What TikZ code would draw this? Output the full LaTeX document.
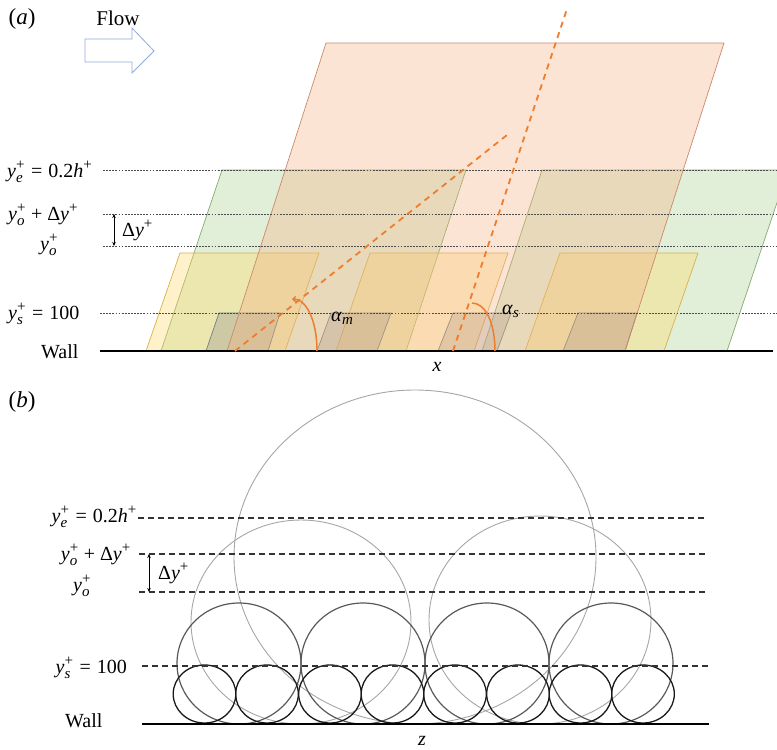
\documentclass[tikz,border=0pt]{standalone}
\usepackage{amsmath}
\usepackage{fontspec}
\setmainfont{Liberation Serif}
\usetikzlibrary{arrows.meta}
\DeclareMathSizes{20}{20}{15}{12}
\DeclareMathSizes{19}{19}{14}{11}
\definecolor{salmonF}{HTML}{F4B183}
\definecolor{salmonD}{HTML}{C9896B}
\definecolor{greenF}{HTML}{A9D18E}
\definecolor{greenD}{HTML}{86A96F}
\definecolor{yellF}{HTML}{FFD966}
\definecolor{yellD}{HTML}{D6B04E}
\definecolor{grayF}{HTML}{8C8C8C}
\definecolor{grayD}{HTML}{6F7F86}
\definecolor{orangeL}{HTML}{ED7D31}
\definecolor{flowC}{HTML}{8FAADC}
\newcommand{\yplus}[1]{\textit{y}$^{\text{+}}_{\textit{#1}}$}
\newcommand{\dyplus}{Δ\textit{y}$^{\text{+}}$}
\newcommand{\eqs}{\hspace{0.3em}=\hspace{0.3em}}
\newcommand{\pls}{\hspace{0.25em}+\hspace{0.25em}}
\begin{document}
\begin{tikzpicture}[x=1pt,y=-1pt,
  lbl/.style={inner sep=0pt,font=\fontsize{20}{24}\selectfont},
  greenbox/.style={fill=greenF,fill opacity=0.35,draw=greenD,line width=0.7pt},
  yellbox/.style={fill=yellF,fill opacity=0.35,draw=yellD,line width=0.7pt},
  graybox/.style={fill=grayF,fill opacity=0.32,draw=grayD,line width=0.7pt},
  salmonbox/.style={fill=salmonF,fill opacity=0.35,draw=salmonD,line width=0.7pt},
  dotline/.style={draw=black!70,line width=0.7pt,dash pattern=on 1.8pt off 1.3pt},
  dashline/.style={draw=black!80,line width=1.3pt,dash pattern=on 6pt off 4pt},
  wallline/.style={draw=black,line width=1.8pt},
  odash/.style={draw=orangeL,line width=1.8pt,dash pattern=on 6pt off 5pt},
  oarc/.style={draw=orangeL,line width=1.5pt},
  dyarrow/.style={draw=black,line width=0.8pt,{Stealth[length=4pt,width=3.5pt]}-{Stealth[length=4pt,width=3.5pt]}},
  smallc/.style={draw=black!90,line width=1.3pt},
  medc/.style={draw=black!65,line width=1.2pt},
  largec/.style={draw=black!35,line width=0.9pt}]
\useasboundingbox (0,0) rectangle (777,750);

% ---------------- panel (a) ----------------
\begin{scope}
\clip (0,0) rectangle (777,750);
\draw[greenbox] (161,351) -- (222,170) -- (466,170) -- (406,351) -- cycle;
\draw[greenbox] (482,351) -- (542,170) -- (788,170) -- (727,351) -- cycle;
\end{scope}
\draw[yellbox] (146,351) -- (180,253) -- (319,253) -- (285,351) -- cycle;
\draw[yellbox] (336,351) -- (370,253) -- (508,253) -- (474,351) -- cycle;
\draw[yellbox] (525,351) -- (560,253) -- (698,253) -- (664,351) -- cycle;
\draw[graybox] (206,351) -- (219,313) -- (280,313) -- (268,351) -- cycle;
\draw[graybox] (317,351) -- (331,313) -- (391,313) -- (377,351) -- cycle;
\draw[graybox] (438,351) -- (453,313) -- (511,313) -- (497,351) -- cycle;
\draw[graybox] (563,351) -- (578,313) -- (637,313) -- (625,351) -- cycle;
\draw[salmonbox] (227,351) -- (326,43) -- (724,43) -- (625,351) -- cycle;

% level lines (a)
\coordinate (aeL) at (103,170); \coordinate (aeR) at (777,170);
\coordinate (adL) at (103,214); \coordinate (adR) at (777,214);
\coordinate (aoL) at (103,246); \coordinate (aoR) at (777,246);
\coordinate (asL) at (100,313); \coordinate (asR) at (777,313);
\coordinate (awL) at (100,351); \coordinate (awR) at (773,351);
\draw[dotline] (aeL) -- (aeR);
\draw[dotline] (adL) -- (adR);
\draw[dotline] (aoL) -- (aoR);
\draw[dotline] (asL) -- (asR);
\draw[wallline] (awL) -- (awR);

% dy arrow (a)
\coordinate (adyT) at (114,214); \coordinate (adyB) at (114,246);
\draw[dyarrow] (adyT) -- (adyB);

% orange dashed lines and arcs
\coordinate (m0) at (235,351); \coordinate (m1) at (507,135);
\coordinate (s0) at (453,351); \coordinate (s1) at (567,9);
\draw[odash] (m0) -- (m1);
\draw[odash] (s0) -- (s1);
\coordinate (am0) at (292,299); \coordinate (am1) at (317,351);
\draw[oarc,{Straight Barb[length=2.5pt,width=5pt]}-] (am0) .. controls (306,299) and (317,320) .. (am1);
\coordinate (as0) at (472,303); \coordinate (as1) at (495,351);
\draw[oarc] (as0) .. controls (485,303) and (495,322) .. (as1);

% flow arrow
\draw[draw=flowC,line width=0.8pt,fill=white] (85,39) -- (132,39) -- (132,28) -- (154,51) -- (132,73) -- (132,62) -- (85,62) -- cycle;

% labels (a)
\node[lbl,font=\fontsize{23}{26}\selectfont] (la) at (22,19) {(\textit{a})};
\node[lbl,font=\fontsize{21}{24}\selectfont] (flow) at (118,18) {Flow};
\node[lbl,anchor=base west] (aye) at (7,177) {\yplus{e}\eqs 0.2\textit{h}$^{\text{+}}$};
\node[lbl,anchor=base west] (ayd) at (8,220) {\yplus{o}\pls\dyplus};
\node[lbl,anchor=base west] (ayo) at (40,250) {\yplus{o}};
\node[lbl,anchor=base west] (ady) at (122,236) {\dyplus};
\node[lbl,anchor=base west] (ays) at (8,319) {\yplus{s}\eqs 100};
\node[lbl,anchor=base west] (awall) at (41,358) {Wall};
\node[lbl,anchor=base west] (alm) at (331,321) {\textit{α}$_{\textit{m}}$};
\node[lbl,anchor=base west] (als) at (502,314) {\textit{α}$_{\textit{s}}$};
\node[lbl] (ax) at (437,367) {\textit{x}};

% ---------------- panel (b) ----------------
\coordinate (beL) at (138,518); \coordinate (beR) at (707,518);
\coordinate (bdL) at (139,554); \coordinate (bdR) at (707,554);
\coordinate (boL) at (139,592); \coordinate (boR) at (707,592);
\coordinate (bsL) at (142,666); \coordinate (bsR) at (708,666);
\coordinate (bwL) at (142,724); \coordinate (bwR) at (709,724);

% ellipses
\draw[largec] (415,557) ellipse [x radius=181,y radius=167];
\draw[largec] (301,622) ellipse [x radius=110,y radius=102];
\draw[largec] (540,620) ellipse [x radius=111,y radius=104];
\foreach \cx in {239,363,487,611} \draw[medc] (\cx,663.5) ellipse [x radius=62,y radius=60.5];
\foreach \cx in {204.5,267,330,392.5,455,518,580.5,643} \draw[smallc] (\cx,694) ellipse [x radius=31.3,y radius=29];

\draw[dashline] (beL) -- (beR);
\draw[dashline] (bdL) -- (bdR);
\draw[dashline] (boL) -- (boR);
\draw[dashline] (bsL) -- (bsR);
\draw[wallline] (bwL) -- (bwR);

\coordinate (bdyT) at (149,554); \coordinate (bdyB) at (149,592);
\draw[dyarrow] (bdyT) -- (bdyB);

\node[lbl,font=\fontsize{23}{26}\selectfont] (lb) at (22,402) {(\textit{b})};
\node[lbl,anchor=base east] (bye) at (137,522) {\yplus{e}\eqs 0.2\textit{h}$^{\text{+}}$};
\node[lbl,anchor=base east] (byd) at (131,560) {\yplus{o}\pls\dyplus};
\node[lbl,anchor=base west] (byo) at (73,591) {\yplus{o}};
\node[lbl,anchor=base west] (bdy) at (158,579) {\dyplus};
\node[lbl,anchor=base east] (bys) at (127,673) {\yplus{s}\eqs 100};
\node[lbl,anchor=base west] (bwall) at (65,727) {Wall};
\node[lbl] (bz) at (422,741) {\textit{z}};
\end{tikzpicture}
\end{document}
